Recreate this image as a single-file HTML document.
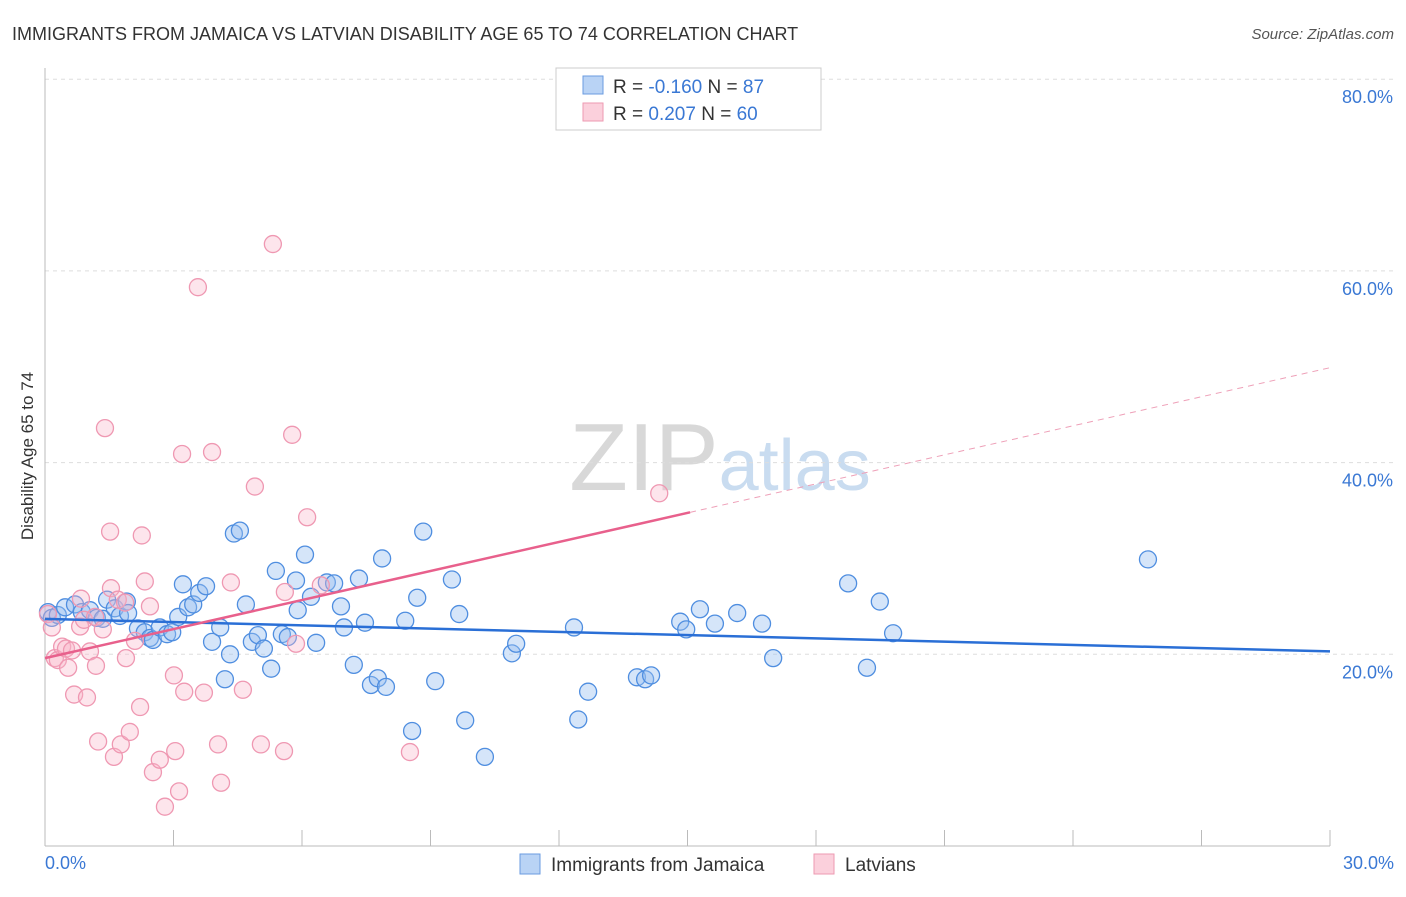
<!DOCTYPE html>
<html><head><meta charset="utf-8"><style>
body{margin:0;background:#fff;font-family:"Liberation Sans",sans-serif;}
svg text{font-family:"Liberation Sans",sans-serif;}
</style></head><body>
<svg id="chart" width="1406" height="892" xmlns="http://www.w3.org/2000/svg">
<text x="12" y="40" font-size="18" fill="#333">IMMIGRANTS FROM JAMAICA VS LATVIAN DISABILITY AGE 65 TO 74 CORRELATION CHART</text>
<text x="1394" y="39" font-size="15" fill="#555" text-anchor="end" font-style="italic">Source: ZipAtlas.com</text>
<text x="720" y="490" font-size="96" text-anchor="middle" fill="#ddd" font-family="Liberation Serif"><tspan fill="#d8d8d8">ZIP</tspan><tspan fill="#c9dcf0" font-family="Liberation Sans" font-size="72">atlas</tspan></text>
<g id="grid"></g>
<line x1="45" y1="68" x2="45" y2="846" stroke="#bbb"/>
<line x1="45" y1="846" x2="1330" y2="846" stroke="#bbb"/>
<g id="xticks"></g>
<text transform="translate(33,456) rotate(-90)" font-size="17" fill="#333" text-anchor="middle">Disability Age 65 to 74</text>
<text x="45" y="869" font-size="18" fill="#3a78d4">0.0%</text>
<text x="1394" y="869" font-size="18" fill="#3a78d4" text-anchor="end">30.0%</text>
<g id="pts"></g>
<g id="lines"></g>
<g>
<rect x="556" y="68" width="265" height="62" fill="#fff" stroke="#ccc"/>
<rect x="583" y="76" width="20" height="18" fill="#b9d3f5" stroke="#6a9be0"/>
<rect x="583" y="103" width="20" height="18" fill="#fbd0dc" stroke="#ee9ab2"/>
<text x="613" y="93" font-size="19" fill="#333">R = <tspan fill="#3a78d4">-0.160</tspan>   N = <tspan fill="#3a78d4">87</tspan></text>
<text x="613" y="120" font-size="19" fill="#333">R =  <tspan fill="#3a78d4">0.207</tspan>   N = <tspan fill="#3a78d4">60</tspan></text>
</g>
<g>
<rect x="520" y="854" width="20" height="20" fill="#b9d3f5" stroke="#6a9be0"/>
<text x="551" y="871" font-size="19" fill="#333">Immigrants from Jamaica</text>
<rect x="814" y="854" width="20" height="20" fill="#fbd0dc" stroke="#ee9ab2"/>
<text x="845" y="871" font-size="19" fill="#333">Latvians</text>
</g>
</svg>
<script>
const yTicks=[20,40,60,80];
const xTickVals=[0,3,6,9,12,15,18,21,24,27,30];
const blueX=[0.07,0.16,0.3,0.47,0.7,0.86,1.05,1.21,1.35,1.45,1.63,1.75,1.91,1.94,2.17,2.33,2.45,2.52,2.68,2.85,2.97,3.11,3.22,3.34,3.46,3.6,3.76,3.9,4.09,4.2,4.32,4.41,4.55,4.69,4.83,4.97,5.11,5.28,5.39,5.53,5.67,5.86,5.9,6.07,6.21,6.33,6.58,6.75,6.91,6.98,7.21,7.33,7.47,7.61,7.77,7.87,7.96,8.41,8.57,8.69,8.83,9.11,9.5,9.67,9.81,10.27,10.9,11.0,12.35,12.45,12.68,13.82,14.01,14.15,14.83,14.97,15.29,15.64,16.16,16.74,17.0,18.75,19.19,19.49,19.8,25.75];
const blueY=[24.4,23.8,24.1,24.9,25.2,24.4,24.6,23.8,23.7,25.7,24.8,24.0,25.5,24.3,22.7,22.3,21.7,21.5,22.8,22.1,22.3,23.9,27.3,24.9,25.2,26.4,27.1,21.3,22.8,17.4,20.0,32.6,32.9,25.2,21.3,22.0,20.6,18.5,28.7,22.1,21.8,27.7,24.6,30.4,26.0,21.2,27.5,27.4,25.0,22.8,18.9,27.9,23.3,16.8,17.5,30.0,16.6,23.5,12.0,25.9,32.8,17.2,27.8,24.2,13.1,9.3,20.1,21.1,22.8,13.2,16.1,17.6,17.4,17.8,23.4,22.6,24.7,23.2,24.3,23.2,19.6,27.4,18.6,25.5,22.2,29.9];
const pinkX=[0.07,0.16,0.23,0.3,0.4,0.49,0.54,0.63,0.68,0.82,0.84,0.91,0.98,1.05,1.17,1.19,1.24,1.35,1.4,1.52,1.54,1.61,1.7,1.77,1.87,1.89,1.98,2.1,2.22,2.26,2.33,2.45,2.52,2.68,2.8,3.01,3.04,3.13,3.2,3.25,3.57,3.71,3.9,4.04,4.11,4.34,4.62,4.9,5.04,5.32,5.58,5.6,5.77,5.86,6.12,6.44,8.52,14.34];
const pinkY=[24.2,22.8,19.6,19.4,20.8,20.6,18.6,20.4,15.8,22.9,25.8,23.6,15.5,20.3,23.9,18.8,10.9,22.6,43.6,32.8,26.9,9.3,25.7,10.6,25.4,19.6,11.9,21.4,14.5,32.4,27.6,25.0,7.7,9.0,4.1,17.8,9.9,5.7,40.9,16.1,58.3,16.0,41.1,10.6,6.6,27.5,16.3,37.5,10.6,62.8,9.9,26.5,42.9,21.1,34.3,27.2,9.8,36.8];
const blueTrend=[23.7,20.3];
const pinkTrend=[19.6,49.9];
const pinkSolidEnd=15.06;
const NS='http://www.w3.org/2000/svg';
const X=v=>45+v/30*1285, Y=v=>846-v*9.585;
function mk(t,a,p){const e=document.createElementNS(NS,t);for(const k in a)e.setAttribute(k,a[k]);p.appendChild(e);return e;}
const grid=document.getElementById('grid'),svg=document.getElementById('chart');
yTicks.forEach(t=>{
 const l=mk('line',{x1:45,x2:1394,y1:Y(t),y2:Y(t),stroke:'#ddd','stroke-dasharray':'4,4'},grid);
 
 
 const tx=mk('text',{x:1393,y:Y(t)+24,'font-size':18,fill:'#3a78d4','text-anchor':'end'},svg);
 tx.textContent=t.toFixed(1)+'%';
 
 
});
const xt=document.getElementById('xticks');
xTickVals.forEach(v=>{
 const l=mk('line',{x1:X(v),x2:X(v),y1:830,y2:846,stroke:'#bbb'},xt);
 
 
});
const pts=document.getElementById('pts');
blueX.forEach((x,i)=>{
 const c=mk('circle',{cx:X(x),cy:Y(blueY[i]),r:8.5,fill:'rgba(150,190,240,0.4)',stroke:'#4f8ee0','stroke-width':1.3},pts);
 
 
});
pinkX.forEach((x,i)=>{
 const c=mk('circle',{cx:X(x),cy:Y(pinkY[i]),r:8.5,fill:'rgba(248,180,200,0.35)',stroke:'#ef98b2','stroke-width':1.3},pts);
 
 
});
const lines=document.getElementById('lines');
const bl=mk('line',{x1:X(0),y1:Y(blueTrend[0]),x2:X(30),y2:Y(blueTrend[1]),stroke:'#2a6fd6','stroke-width':2.5},lines);


const pm=v=>pinkTrend[0]+(pinkTrend[1]-pinkTrend[0])*v/30;
const pl=mk('line',{x1:X(0),y1:Y(pm(0)),x2:X(pinkSolidEnd),y2:Y(pm(pinkSolidEnd)),stroke:'#e8608c','stroke-width':2.5},lines);


const pd=mk('line',{x1:X(pinkSolidEnd),y1:Y(pm(pinkSolidEnd)),x2:X(30),y2:Y(pm(30)),stroke:'#eea0b8','stroke-width':1,'stroke-dasharray':'6,5'},lines);


</script>
</body></html>
